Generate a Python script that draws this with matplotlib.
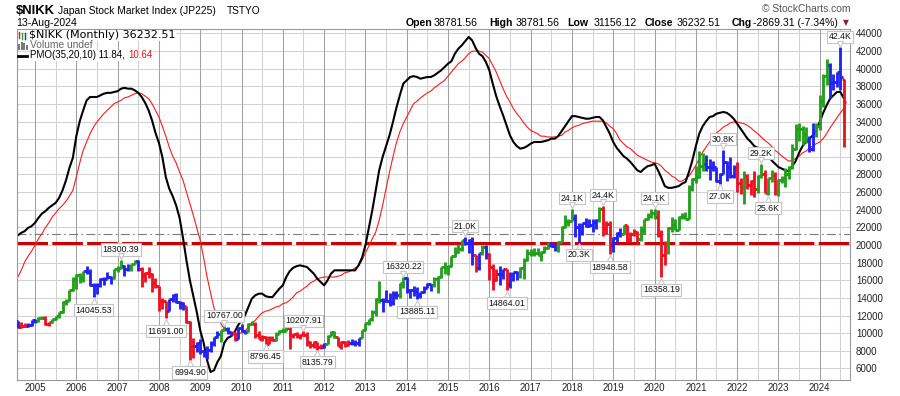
import matplotlib
matplotlib.use('Agg')
import matplotlib.pyplot as plt
import matplotlib.transforms as mtransforms
from matplotlib.collections import LineCollection
from matplotlib.lines import Line2D
import numpy as np
import pandas as pd

# ---------------- data (monthly, Aug-2004 .. Aug-2024) ----------------
months = [str(p) for p in pd.period_range('2004-08', '2024-08', freq='M')]

open_ = [
    11326, 10687, 10823, 10771, 10899,
    11488, 11387, 11740, 11668, 11008, 11276, 11584, 11899, 12413, 13574, 13606, 14872,
    16111, 16649, 16205, 17059, 16906, 15467, 15505, 15456, 16140, 16127, 16399, 16274,
    17225, 17383, 17604, 17287, 17400, 17875, 18138, 17248, 16569, 16785, 16737, 15680,
    15307, 13592, 13603, 12525, 13849, 14338, 13481, 13376, 13072, 11259, 8576, 8512,
    8859, 7994, 7568, 8109, 8828, 9522, 9958, 10356, 10492, 10133, 10034, 9345,
    10546, 10198, 10126, 11089, 11057, 9768, 9382, 9537, 8824, 9369, 9202, 9937,
    10228, 10237, 10624, 9755, 9849, 9693, 9816, 9833, 8955, 8700, 8988, 8434,
    8455, 8802, 9723, 10083, 9520, 8542, 9006, 8695, 8839, 8870, 8928, 9446,
    10395, 11138, 11559, 12397, 13861, 13774, 13677, 13668, 13388, 14455, 14327, 15662,
    16291, 14914, 14841, 14828, 14304, 14632, 15162, 15621, 15425, 16174, 16414, 17460,
    17451, 17674, 18798, 19207, 19520, 20563, 20236, 20585, 18890, 17388, 19083, 19747,
    19034, 17518, 16027, 16759, 16666, 17235, 15576, 16569, 16887, 16450, 17425, 18308,
    19114, 19041, 19119, 18909, 19197, 19651, 20033, 19925, 19646, 20356, 22012, 22725,
    22765, 23098, 22068, 21454, 22468, 22202, 22305, 22554, 22865, 24120, 21920, 22351,
    20015, 20773, 21385, 21206, 22259, 20601, 21276, 21522, 20704, 21756, 22927, 23294,
    23657, 23205, 21143, 18917, 20194, 21878, 22288, 21710, 23140, 23185, 22977, 26434,
    27444, 27663, 28966, 29179, 28813, 28860, 28792, 27284, 28090, 29453, 28893, 27822,
    28792, 27002, 26527, 27821, 26848, 27280, 26393, 27802, 28092, 25937, 27587, 27969,
    26095, 27327, 27446, 28041, 28856, 30888, 33189, 33172, 32619, 31858, 30859, 33487,
    33464, 36287, 39166, 40369, 38406, 38488, 39583, 38781.56,
]
high = [
    11350, 11300, 11200, 11200, 11500,
    11600, 11800, 11950, 11900, 11300, 11600, 11900, 12450, 13600, 13850, 14900, 16400,
    16700, 16800, 17100, 17563, 17300, 15700, 15700, 16300, 16400, 16900, 16500, 17300,
    17600, 18300, 17700, 17800, 17900, 18300, 18296, 17500, 16900, 17500, 16800, 16300,
    15400, 14000, 13600, 13900, 14400, 14600, 13600, 13500, 13100, 11400, 9500, 9000,
    9300, 8100, 8500, 9100, 9600, 10200, 10400, 10767, 10700, 10300, 10100, 10700,
    11000, 10400, 11100, 11400, 11300, 10250, 9800, 9700, 9700, 9700, 10100, 10400,
    10600, 10890, 10800, 9900, 10100, 9900, 10208, 10100, 9100, 9100, 9000, 8800,
    8900, 9800, 10255, 10200, 9600, 9100, 9100, 9200, 9300, 9200, 9500, 10400,
    11200, 11660, 12600, 14000, 15942, 14000, 14950, 14500, 14800, 14800, 15700, 16320,
    16320, 15000, 15300, 15200, 14700, 15400, 15700, 15600, 16400, 16500, 17500, 18030,
    17700, 18800, 19800, 20130, 20600, 20952, 20650, 20950, 18900, 19100, 20000, 20000,
    19100, 17900, 17300, 17600, 17250, 17300, 16900, 16900, 17100, 17500, 18500, 19600,
    19600, 19700, 19700, 19300, 19900, 20300, 20300, 20100, 20400, 22100, 23380, 23000,
    24129, 23500, 22500, 22500, 23050, 23000, 22900, 22900, 24300, 24448, 22700, 22700,
    20900, 21500, 21900, 22300, 22300, 21500, 21800, 21600, 22100, 23000, 23600, 24100,
    24115, 23995, 21700, 20400, 22000, 23178, 23000, 23300, 23600, 23700, 26800, 27600,
    28979, 30714, 30485, 30200, 29700, 29500, 28900, 28200, 30795, 29500, 29960, 29100,
    29388, 27600, 28338, 28000, 27400, 28400, 27900, 29222, 28500, 27600, 28500, 28300,
    27500, 27800, 28700, 29000, 31500, 33700, 33800, 33500, 33400, 32400, 33800, 33800,
    36984, 39400, 41088, 40600, 39400, 39600, 42426, 38781.56,
]
low = [
    10550, 10600, 10650, 10700, 10850,
    11200, 11300, 11600, 10900, 10800, 11200, 11500, 11700, 12300, 13200, 13600, 14800,
    15050, 15700, 15800, 16700, 15400, 14045, 14400, 15200, 15500, 16100, 15600, 16200,
    16900, 17300, 16500, 17100, 17100, 17800, 17100, 15250, 15800, 16300, 14700, 15100,
    12570, 12700, 11691, 12500, 13500, 13400, 12700, 12600, 11200, 6995, 7160, 7900,
    7600, 7300, 7021, 7900, 8600, 9400, 9000, 10200, 9900, 9700, 9080, 9300,
    10100, 9900, 10100, 10900, 9400, 9300, 9100, 8796, 8800, 9100, 9100, 9900,
    10100, 10200, 8227, 9400, 9400, 9300, 9800, 8600, 8350, 8340, 8136, 8200,
    8350, 8800, 9700, 9400, 8500, 8240, 8400, 8600, 8700, 8500, 8600, 9400,
    10300, 10900, 11400, 12000, 13400, 12400, 13600, 13100, 13200, 13900, 14000, 15100,
    14600, 13995, 14200, 13885, 13970, 14500, 15100, 14750, 15200, 14530, 16300, 16700,
    16600, 17500, 18600, 19100, 19300, 20000, 19100, 17700, 16900, 17200, 18900, 18400,
    16000, 14865, 15900, 15500, 16100, 14864, 15100, 15900, 16000, 16300, 16100, 18200,
    18700, 18800, 18900, 18200, 19100, 19600, 19800, 19300, 19200, 20300, 21900, 22100,
    22700, 20950, 20347, 21100, 22000, 22000, 21500, 21850, 22600, 20970, 21200, 18949,
    19240, 20300, 20900, 21200, 20300, 20300, 21000, 20100, 20500, 21300, 22800, 23100,
    22900, 20900, 16358, 17700, 19000, 21500, 21700, 21700, 22900, 22900, 22900, 26100,
    27000, 27600, 28400, 28400, 27385, 28400, 27200, 26954, 28000, 27300, 27600, 27600,
    26044, 25800, 24681, 26300, 25700, 25500, 25900, 27600, 25900, 25621, 27200, 25700,
    25600, 27000, 26600, 27500, 28600, 30800, 31800, 31300, 31600, 30500, 30700, 32200,
    33100, 35600, 38200, 36700, 37600, 37900, 37600, 31156.12,
]
close = [
    10687, 10823, 10771, 10899, 11488,
    11387, 11740, 11668, 11008, 11276, 11584, 11899, 12413, 13574, 13606, 14872, 16111,
    16649, 16205, 17059, 16906, 15467, 15505, 15456, 16140, 16127, 16399, 16274, 17225,
    17383, 17604, 17287, 17400, 17875, 18138, 17248, 16569, 16785, 16737, 15680, 15307,
    13592, 13603, 12525, 13849, 14338, 13481, 13376, 13072, 11259, 8576, 8512, 8859,
    7994, 7568, 8109, 8828, 9522, 9958, 10356, 10492, 10133, 10034, 9345, 10546,
    10198, 10126, 11089, 11057, 9768, 9382, 9537, 8824, 9369, 9202, 9937, 10228,
    10237, 10624, 9755, 9849, 9693, 9816, 9833, 8955, 8700, 8988, 8434, 8455,
    8802, 9723, 10083, 9520, 8542, 9006, 8695, 8839, 8870, 8928, 9446, 10395,
    11138, 11559, 12397, 13861, 13774, 13677, 13668, 13388, 14455, 14327, 15662, 16291,
    14914, 14841, 14828, 14304, 14632, 15162, 15621, 15425, 16174, 16414, 17460, 17451,
    17674, 18798, 19207, 19520, 20563, 20236, 20585, 18890, 17388, 19083, 19747, 19034,
    17518, 16027, 16759, 16666, 17235, 15576, 16569, 16887, 16450, 17425, 18308, 19114,
    19041, 19119, 18909, 19197, 19651, 20033, 19925, 19646, 20356, 22012, 22725, 22765,
    23098, 22068, 21454, 22468, 22202, 22305, 22554, 22865, 24120, 21920, 22351, 20015,
    20773, 21385, 21206, 22259, 20601, 21276, 21522, 20704, 21756, 22927, 23294, 23657,
    23205, 21143, 18917, 20194, 21878, 22288, 21710, 23140, 23185, 22977, 26434, 27444,
    27663, 28966, 29179, 28813, 28860, 28792, 27284, 28090, 29453, 28893, 27822, 28792,
    27002, 26527, 27821, 26848, 27280, 26393, 27802, 28092, 25937, 27587, 27969, 26095,
    27327, 27446, 28041, 28856, 30888, 33189, 33172, 32619, 31858, 30859, 33487, 33464,
    36287, 39166, 40369, 38406, 38488, 39583, 39102, 36232.51,
]
# bar colouring state per month: g = green, b = blue, r = red
impulse = (
    "brrbb"
    "bggrrggggggg" "gggbbbbbbbbg" "ggbbggbrrrrr" "rrrbbbbbrrrb" "bbbbbbggbbrb"
    "bbggrrrrrrgg" "ggrrrrrrrrrr" "bgggrrrrbbbg" "gggggbbbbbgg" "bbbbbbbbgggg"
    "gggggbbbrbgb" "rrrbbrbbbggg" "ggggggbbgggg" "gbbbbbbbgrrr" "bbbgrrrrgggg"
    "grrrgggggggg" "gggbbbbbbbbb" "rrgrrrggrggr" "gggggggggbbg" "gggbbbbr"
)
pmo = [
    -4.6, -4.3, -4.1, -3.7, -3.5,
    -3.1, -2.5, -2.0, -1.7, -1.3, -1.0, -0.7, -0.1, 0.8, 2.0, 3.5, 4.7,
    7.3, 9.1, 10.4, 11.6, 12.0, 12.0, 12.0, 12.2, 12.4, 12.5, 12.5, 12.6,
    12.7, 13.0, 13.1, 13.0, 13.0, 12.8, 12.5, 12.0, 11.3, 10.4, 9.2, 7.7,
    6.5, 4.8, 2.4, 1.0, 0.1, -1.0, -2.5, -4.9, -7.6, -10.0, -11.9, -13.8,
    -16.0, -17.5, -19.6, -21.0, -20.8, -19.8, -19.1, -17.5, -16.9, -16.7, -16.2, -15.4,
    -14.8, -14.2, -13.2, -12.2, -11.8, -11.6, -11.6, -11.9, -12.0, -12.0, -11.5, -11.0,
    -10.6, -9.6, -8.9, -8.5, -8.3, -8.2, -8.3, -8.4, -8.8, -9.2, -9.8, -10.2,
    -10.6, -10.0, -9.2, -8.8, -8.8, -8.8, -8.8, -8.8, -8.8, -8.8, -8.2, -7.3,
    -5.8, -3.7, -1.6, 0.8, 3.2, 4.8, 6.1, 7.4, 9.0, 10.7, 12.2, 13.6,
    14.0, 14.4, 14.5, 14.4, 14.2, 14.3, 14.4, 14.4, 14.6, 14.9, 15.2, 15.6,
    16.0, 16.3, 17.2, 17.8, 18.2, 18.7, 19.2, 18.8, 17.9, 17.2, 16.9, 16.2,
    15.2, 13.6, 12.1, 10.9, 9.8, 8.6, 7.4, 6.6, 6.1, 5.8, 5.9, 6.1,
    6.4, 6.6, 6.6, 6.6, 6.7, 6.8, 7.0, 7.0, 7.3, 7.9, 8.5, 9.1,
    9.7, 9.7, 9.6, 9.5, 9.4, 9.4, 9.5, 9.6, 9.6, 9.2, 8.4, 7.6,
    6.6, 5.9, 5.4, 4.9, 4.6, 4.2, 3.7, 3.2, 3.0, 3.4, 3.7, 3.8,
    4.0, 3.2, 2.3, 1.3, 1.1, 1.1, 1.2, 1.3, 1.6, 1.8, 3.0, 4.4,
    6.1, 7.6, 8.5, 9.1, 9.6, 9.7, 10.0, 10.1, 10.2, 10.1, 9.8, 9.4,
    8.8, 8.2, 7.6, 7.0, 6.6, 6.1, 5.9, 5.8, 5.5, 5.0, 4.4, 4.0,
    3.6, 3.4, 3.2, 3.1, 3.7, 4.3, 5.3, 6.1, 6.6, 7.0, 7.4, 8.0,
    9.0, 10.1, 11.0, 11.8, 12.2, 12.6, 12.6, 11.84,
]
pmo_signal = [
    -9.6, -8.8, -7.8, -7.1, -6.5,
    -5.8, -5.0, -4.4, -3.7, -3.1, -2.4, -1.9, -1.4, -1.0, -0.5, 0.1, 0.8,
    2.4, 4.1, 5.6, 6.6, 7.6, 8.4, 9.0, 9.5, 10.0, 10.4, 10.8, 11.2,
    11.4, 11.6, 11.9, 12.0, 12.2, 12.4, 12.5, 12.4, 12.1, 11.8, 11.2, 10.4,
    9.6, 8.5, 7.3, 6.0, 4.9, 4.1, 3.0, 2.0, 0.6, -0.8, -2.2, -3.7,
    -5.2, -7.3, -9.6, -11.5, -13.3, -14.3, -15.2, -15.8, -16.2, -16.4, -16.6, -16.4,
    -16.3, -16.1, -15.6, -15.1, -14.8, -14.3, -13.9, -13.7, -13.6, -13.4, -13.2, -13.1,
    -12.8, -12.7, -12.4, -12.0, -11.5, -11.3, -11.0, -10.7, -10.3, -10.1, -9.8, -9.7,
    -9.6, -9.6, -9.6, -9.6, -9.5, -9.4, -9.1, -9.0, -8.8, -8.5, -8.3, -7.6,
    -6.7, -5.9, -5.0, -4.2, -2.8, -1.0, 1.0, 3.0, 4.8, 6.5, 7.8, 8.8,
    9.6, 10.4, 11.2, 11.5, 11.9, 12.2, 12.5, 12.7, 13.1, 13.4, 13.7, 14.0,
    14.5, 15.0, 15.5, 16.0, 16.3, 16.7, 17.2, 17.5, 17.5, 17.5, 17.4, 17.0,
    16.6, 15.8, 15.0, 14.0, 13.0, 12.1, 11.4, 10.6, 10.0, 9.5, 8.9, 8.4,
    8.0, 7.8, 7.6, 7.3, 7.3, 7.2, 7.2, 7.2, 7.3, 7.4, 7.8, 8.0,
    8.3, 8.5, 8.6, 8.8, 8.9, 9.0, 9.1, 9.1, 9.1, 9.1, 8.9, 8.5,
    8.2, 7.6, 6.8, 6.4, 6.0, 5.8, 5.4, 5.0, 4.8, 4.6, 4.4, 4.2,
    4.1, 4.0, 3.7, 3.2, 2.9, 2.5, 2.3, 1.9, 1.9, 2.2, 2.5, 3.1,
    3.8, 4.6, 5.4, 6.0, 6.6, 7.2, 7.7, 8.0, 8.4, 8.6, 8.9, 9.0,
    9.0, 8.9, 8.8, 8.6, 8.3, 7.9, 7.6, 7.2, 6.8, 6.5, 6.1, 5.6,
    5.3, 4.9, 4.6, 4.3, 4.4, 4.6, 4.9, 5.3, 5.5, 5.9, 6.1, 6.4,
    6.6, 7.0, 7.6, 8.3, 8.9, 9.5, 10.1, 10.64,
]
# swing labels: (month, text, which end of the bar)
swing_labels = [
    ('2006-06', '14045.53', 'low'), ('2007-02', '18300.39', 'high'),
    ('2008-03', '11691.00', 'low'), ('2008-10', '6994.90', 'low'),
    ('2009-08', '10767.00', 'high'), ('2010-08', '8796.45', 'low'),
    ('2011-07', '10207.91', 'high'), ('2011-11', '8135.79', 'low'),
    ('2013-12', '16320.22', 'high'), ('2014-04', '13885.11', 'low'),
    ('2015-06', '21.0K', 'high'), ('2016-06', '14864.01', 'low'),
    ('2018-01', '24.1K', 'high'), ('2018-03', '20.3K', 'low'),
    ('2018-10', '24.4K', 'high'), ('2018-12', '18948.58', 'low'),
    ('2020-01', '24.1K', 'high'), ('2020-03', '16358.19', 'low'),
    ('2021-08', '27.0K', 'low'), ('2021-09', '30.8K', 'high'),
    ('2022-08', '29.2K', 'high'), ('2022-10', '25.6K', 'low'),
    ('2024-07', '42.4K', 'high'),
]
hline_level = 20200      # thick red dashed line
ref_level = 21250        # grey dash-dot line
y_ticks = list(range(6000, 44001, 2000))
year_ticks = list(range(2005, 2025))

# ---------------- figure ----------------
W, H = 900, 396
fig = plt.figure(figsize=(W / 100, H / 100), dpi=100)
fig.patch.set_facecolor('white')
ax = fig.add_axes([17 / W, 1 - 380 / H, 833 / W, 351 / H])

xs = np.array([int(m[:4]) + (int(m[5:]) - 1) / 12 for m in months])
x0, x1 = 2004.564, 2024.733
ax.set_xlim(x0, x1)
ax.set_ylim(4687, 44501)

# grid
for y in y_ticks:
    ax.axhline(y, color='#d2d2d2', lw=0.75, zorder=0.5)
for yr in range(2005, 2025):
    ax.axvline(yr, color='#a0a0a0', lw=0.75, zorder=0.6)
    if yr + 0.5 < x1:
        ax.axvline(yr + 0.5, color='#d2d2d2', lw=0.75, zorder=0.5)

# reference lines
ax.axhline(ref_level, color='#7a7a7a', lw=0.8, ls=(0, (8, 3, 1.5, 3)), zorder=1)
ax.axhline(hline_level, color='#cc0000', lw=2.2, ls=(0, (10, 1.4)), zorder=1.2)

# PMO overlay on its own hidden scale
vmin, vmax = -21.96, 20.16
pmo_tr = mtransforms.blended_transform_factory(
    ax.transData,
    mtransforms.Affine2D().translate(0, -vmin).scale(1, 1 / (vmax - vmin)) + ax.transAxes)
ax.plot(xs, pmo_signal, color='#ff1a1a', lw=0.8, transform=pmo_tr, zorder=2)
ax.plot(xs, pmo, color='#000000', lw=1.5, transform=pmo_tr, zorder=2.1)

# OHLC bars
cmap = {'g': '#22a01c', 'b': '#2222f5', 'r': '#ee1122'}
segs, cols = [], []
w = 0.055
for x, o, h, l, c, k in zip(xs, open_, high, low, close, impulse):
    col = cmap[k]
    segs += [[(x, l), (x, h)], [(x - w, o), (x, o)], [(x, c), (x + w, c)]]
    cols += [col] * 3
ax.add_collection(LineCollection(segs, colors=cols, linewidths=2.05,
                                 capstyle='butt', zorder=3))

# swing labels
up = mtransforms.offset_copy(ax.transData, fig=fig, x=0, y=2.6, units='points')
dn = mtransforms.offset_copy(ax.transData, fig=fig, x=0, y=-2.6, units='points')
for m, txt, side in swing_labels:
    i = months.index(m)
    if side == 'high':
        yv, off, mk, tr = high[i], 7.6, 'v', up
    else:
        yv, off, mk, tr = low[i], -9.2, '^', dn
    ax.annotate(txt, xy=(xs[i], yv), xytext=(0, off), textcoords='offset points',
                ha='center', va='center', fontsize=6.3, family='Liberation Sans',
                color='#111111', zorder=6,
                bbox=dict(boxstyle='square,pad=0.18', fc='white', ec='#c4c4c4', lw=0.8))
    ax.plot([xs[i]], [yv], marker=mk, ms=4.5, mfc='white', mec='#c4c4c4', mew=0.7,
            transform=tr, zorder=6.5, clip_on=False)

# axes styling
ax.yaxis.tick_right()
ax.set_yticks(y_ticks)
ax.set_yticklabels([str(v) for v in y_ticks])
ax.set_xticks(year_ticks)
ax.set_xticklabels([str(v) for v in year_ticks])
ax.tick_params(axis='both', length=0, labelsize=7, labelcolor='#222222')
ax.tick_params(axis='y', pad=4.2)
ax.tick_params(axis='x', pad=2.5)
for lab in ax.get_xticklabels() + ax.get_yticklabels():
    lab.set_fontfamily('Liberation Sans')
for sp in ax.spines.values():
    sp.set_color('#999999')
    sp.set_linewidth(0.8)

# ---------------- header texts ----------------
def ftext(xp, yp, s, **kw):
    return fig.text(xp / W, 1 - yp / H, s, **kw)

ftext(16, 13.5, '$NIKK', fontsize=9.4, fontweight='bold', family='Liberation Sans', va='baseline')
ftext(58, 13.5, 'Japan Stock Market Index (JP225)', fontsize=7.35, family='Liberation Sans', va='baseline')
ftext(227, 13.5, 'TSTYO', fontsize=7.3, family='Liberation Sans', va='baseline')
ftext(16, 26, '13-Aug-2024', fontsize=7.6, family='Liberation Sans', va='baseline')
ftext(850, 12.5, '\u00a9 StockCharts.com', fontsize=7.4, family='Liberation Sans',
      color='#555555', va='baseline', ha='right')

hdr = [(406, 'Open', True), (434, '38781.56', False), (489, 'High', True), (516, '38781.56', False),
       (567, 'Low', True), (594, '31156.12', False), (645, 'Close', True), (677, '36232.51', False),
       (732, 'Chg', True), (753, '-2869.31 (-7.34%)', False)]
for xp, s, b in hdr:
    ftext(xp, 26, s, fontsize=7.6, family='Liberation Sans',
          fontweight='bold' if b else 'normal', va='baseline')
ftext(843, 25, '\u25bc', fontsize=5.5, family='DejaVu Sans', color='#9b1b30', va='baseline')

# legend inside the chart
lb = dict(boxstyle='square,pad=0.05', fc='white', ec='none')
ftext(29, 35.5, '$NIKK (Monthly) 36232.51', fontsize=8, family='DejaVu Sans', va='center', bbox=lb)
ftext(30, 45.5, 'Volume undef', fontsize=7.4, family='Liberation Sans', color='#666666', va='center', bbox=lb)
t1 = ftext(30, 55.5, 'PMO(35,20,10) 11.84, ', fontsize=7.0, family='Liberation Sans', va='center', bbox=lb)
fig.canvas.draw()
bb = t1.get_window_extent()
ftext(bb.x1 + 1, 55.5, '10.64', fontsize=7.0, family='Liberation Sans', color='#ee1111', va='center', bbox=lb)
# little legend icons
def fline(xa, ya, xb, yb, **kw):
    fig.add_artist(Line2D([xa / W, xb / W], [1 - ya / H, 1 - yb / H], transform=fig.transFigure, **kw))
fline(19, 32, 19, 38, color='#ee1122', lw=1.0)
fline(22, 33, 22, 39, color='#22a01c', lw=1.0)
fline(25, 33, 25, 39, color='#2222f5', lw=1.0)
for k, (xa, hh) in enumerate([(19, 4), (21.5, 6), (24, 5), (26.5, 3)]):
    fline(xa, 49, xa, 49 - hh, color='#777777', lw=1.4)
fline(18, 55.5, 27, 55.5, color='black', lw=2)

fig.savefig('out.png', dpi=100, facecolor='white')
